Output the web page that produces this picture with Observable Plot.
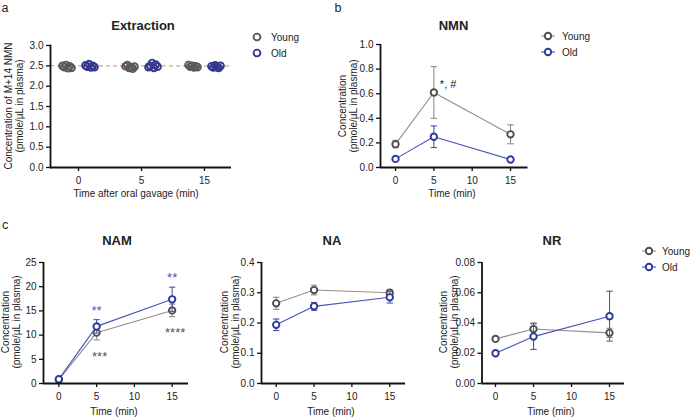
<!DOCTYPE html>
<html><head><meta charset="utf-8">
<script src="https://cdn.jsdelivr.net/npm/d3@7"></script>
<script src="https://cdn.jsdelivr.net/npm/@observablehq/plot@0.6"></script>
<style>
body{margin:0;background:#fff;font-family:Arial,"Liberation Sans",sans-serif;color:#222;}
#fig{position:relative;width:691px;height:417px;overflow:hidden;background:#fff;}
.t{position:absolute;white-space:nowrap;}
.title{font-weight:bold;font-size:13px;transform:translate(-50%,-50%);}
.letter{font-size:12.5px;transform:translate(-50%,-50%);}
.ylab{font-size:10px;text-align:center;line-height:11px;transform:translate(-50%,-50%) rotate(-90deg);}
.xlab{font-size:10px;transform:translate(-50%,-50%);}
.leg{font-size:10px;transform:translateY(-50%);}
</style></head><body><div id="fig"></div>
<script>
// ---------- data ----------
const times = [0, 5, 15];
const timeTicks = [0, 5, 10, 15];
const groups = ["Young", "Old"];

// Panel a: extraction (individual replicates)
const extractTimeLabels = ["0", "5", "15"];
const extractTarget = 2.5;
const extractYoung = [
  [2.50, 2.47, 2.52, 2.44, 2.49, 2.45],
  [2.49, 2.52, 2.45, 2.47, 2.43, 2.48],
  [2.52, 2.48, 2.50, 2.46, 2.49, 2.47]
];
const extractOld = [
  [2.51, 2.48, 2.54, 2.46, 2.50, 2.47],
  [2.47, 2.50, 2.57, 2.45, 2.53, 2.48],
  [2.49, 2.46, 2.51, 2.47, 2.45, 2.50]
];
const extractYTicks = [0, 0.5, 1, 1.5, 2, 2.5, 3];

// Panel b: NMN
const nmnYoungMean = [0.19, 0.61, 0.27];
const nmnYoungSem  = [0.03, 0.21, 0.077];
const nmnOldMean   = [0.07, 0.25, 0.065];
const nmnOldSem    = [0.01, 0.088, 0.01];
const nmnYTicks = [0, 0.2, 0.4, 0.6, 0.8, 1.0];

// Panel c: NAM, NA, NR
const namYoungMean = [0.8, 10.5, 15.1];
const namYoungSem  = [0.3, 1.5, 1.3];
const namOldMean   = [0.9, 11.8, 17.4];
const namOldSem    = [0.3, 1.4, 2.5];
const namYTicks = [0, 5, 10, 15, 20, 25];

const naYoungMean = [0.265, 0.309, 0.300];
const naYoungSem  = [0.020, 0.016, 0.010];
const naOldMean   = [0.194, 0.255, 0.285];
const naOldSem    = [0.019, 0.013, 0.019];
const naYTicks = [0, 0.1, 0.2, 0.3, 0.4];

const nrYoungMean = [0.0295, 0.0360, 0.0335];
const nrYoungSem  = [0.0010, 0.0040, 0.0030];
const nrOldMean   = [0.0200, 0.0310, 0.0445];
const nrOldSem    = [0.0010, 0.0085, 0.0165];
const nrYTicks = [0, 0.02, 0.04, 0.06, 0.08];

// annotations
const nmnAnnot = [{time: 5, value: 0.675, label: "*, #"}];
const namOldAnnot = [{time: 5, value: 15.8, label: "**"}, {time: 15, value: 22.6, label: "**"}];
const namYoungAnnot = [{time: 5, value: 6.2, label: "***"}, {time: 15, value: 11.2, label: "****"}];

// ---------- style ----------
const FONT = "Arial, 'Liberation Sans', sans-serif";
const YOUNG_MARK = "#4d4d4d", YOUNG_LINE = "#8e8e8e";
const OLD_MARK = "#2b399b", OLD_LINE = "#4656b8";
const DOT_YOUNG = "#5a5a5a", DOT_OLD = "#34398f";

const fig = document.getElementById("fig");
function put(el, left, top) {
  el.style.position = "absolute";
  el.style.left = left + "px";
  el.style.top = top + "px";
  fig.appendChild(el);
}
function text(cls, html, x, y) {
  const d = document.createElement("div");
  d.className = "t " + cls;
  d.innerHTML = html;
  d.style.left = x + "px";
  d.style.top = y + "px";
  fig.appendChild(d);
}
function series(mean, sem) {
  return times.map((t, i) => ({time: t, mean: mean[i], lo: mean[i] - sem[i], hi: mean[i] + sem[i]}));
}
const capSymbol = {draw(ctx, size) { const w = Math.sqrt(size) / 2; ctx.moveTo(-w, 0); ctx.lineTo(w, 0); }};

function groupMarks(data, markColor, lineColor) {
  return [
    Plot.line(data, {x: "time", y: "mean", stroke: lineColor, strokeWidth: 1.1}),
    Plot.ruleX(data, {x: "time", y1: "lo", y2: "hi", stroke: lineColor, strokeWidth: 1.1}),
    Plot.dot(data, {x: "time", y: "lo", symbol: capSymbol, r: 3.6, stroke: lineColor, strokeWidth: 1.1, fill: "none"}),
    Plot.dot(data, {x: "time", y: "hi", symbol: capSymbol, r: 3.6, stroke: lineColor, strokeWidth: 1.1, fill: "none"}),
    Plot.dot(data, {x: "time", y: "mean", r: 3.2, stroke: markColor, strokeWidth: 1.9, fill: "white"})
  ];
}

function tcPlot(o) {
  return Plot.plot({
    width: o.width, height: o.height,
    marginLeft: o.ml, marginRight: o.mr, marginTop: o.mt, marginBottom: o.mb,
    style: {fontFamily: FONT, fontSize: "10px", color: "#222", background: "transparent", overflow: "visible"},
    x: {domain: o.xDomain},
    y: {domain: [o.yTicks[0], o.yTicks[o.yTicks.length - 1]]},
    marks: [
      Plot.axisX({ticks: timeTicks, tickSize: 4, tickPadding: 5, label: null, tickFormat: d => String(d), stroke: "#111", strokeWidth: 1.3}),
      Plot.axisY({ticks: o.yTicks, tickSize: 4, tickPadding: 3, label: null, tickFormat: o.yFormat, stroke: "#111", strokeWidth: 1.3}),
      ...groupMarks(o.young, YOUNG_MARK, YOUNG_LINE),
      ...groupMarks(o.old, OLD_MARK, OLD_LINE),
      Plot.ruleX([o.xDomain[0]], {stroke: "#111", strokeWidth: 1.8}),
      Plot.ruleY([o.yTicks[0]], {stroke: "#111", strokeWidth: 1.8}),
      ...(o.extra || [])
    ]
  });
}

// ---------- panel a ----------
const repMarks = [];
groups.forEach((g, gi) => {
  const src = g === "Young" ? extractYoung : extractOld;
  const color = g === "Young" ? DOT_YOUNG : DOT_OLD;
  const n = src[0].length;
  for (let i = 0; i < n; i++) {
    const data = extractTimeLabels.map((t, k) => ({t, v: src[k][i]}));
    repMarks.push(Plot.dot(data, {
      x: "t", y: "v", r: 3.4, stroke: color, strokeWidth: 1.9, fill: "none",
      dx: (gi === 0 ? -11.5 : 11.5) + (i - (n - 1) / 2) * 1.8
    }));
  }
});
const plotA = Plot.plot({
  width: 240, height: 200, marginLeft: 50, marginRight: 9, marginTop: 45, marginBottom: 33,
  style: {fontFamily: FONT, fontSize: "10px", color: "#222", background: "transparent", overflow: "visible"},
  x: {type: "point", domain: extractTimeLabels, padding: 0.42},
  y: {domain: [0, 3]},
  marks: [
    Plot.axisX({tickSize: 4, tickPadding: 5, label: null, stroke: "#111", strokeWidth: 1.3}),
    Plot.axisY({ticks: extractYTicks, tickSize: 4, tickPadding: 3, label: null, tickFormat: d3.format(".1f"), stroke: "#111", strokeWidth: 1.3}),
    Plot.ruleY([extractTarget], {stroke: "#f39a78", strokeWidth: 1.2, strokeDasharray: "4,3"}),
    ...repMarks,
    Plot.frame({anchor: "left", stroke: "#111", strokeWidth: 1.8}),
    Plot.ruleY([0], {stroke: "#111", strokeWidth: 1.8})
  ]
});
put(plotA, 0, 0);

// ---------- panel b ----------
const plotB = tcPlot({
  width: 210, height: 200, ml: 50, mr: 12.5, mt: 44, mb: 33,
  xDomain: [-1.96, 17.28], yTicks: nmnYTicks, yFormat: d3.format(".1f"),
  young: series(nmnYoungMean, nmnYoungSem), old: series(nmnOldMean, nmnOldSem),
  extra: [Plot.text(nmnAnnot, {x: "time", y: "value", text: "label", textAnchor: "start", dx: 6, fontSize: 11, fill: "#222"})]
});
put(plotB, 330, 0);

// ---------- panel c ----------
const plotNAM = tcPlot({
  width: 200, height: 217, ml: 43, mr: 12, mt: 62, mb: 34,
  xDomain: [-2.03, 17.16], yTicks: namYTicks, yFormat: d3.format("d"),
  young: series(namYoungMean, namYoungSem), old: series(namOldMean, namOldSem),
  extra: [
    Plot.text(namOldAnnot, {x: "time", y: "value", text: "label", fontSize: 13, dy: 3.5, fill: OLD_LINE}),
    Plot.text(namYoungAnnot, {x: "time", y: "value", text: "label", fontSize: 13, dy: 3.5, dx: 3, fill: "#555"})
  ]
});
put(plotNAM, 0, 200);

const plotNA = tcPlot({
  width: 200, height: 217, ml: 51, mr: 5, mt: 62, mb: 34,
  xDomain: [-1.94, 17.08], yTicks: naYTicks, yFormat: d3.format(".1f"),
  young: series(naYoungMean, naYoungSem), old: series(naOldMean, naOldSem)
});
put(plotNA, 210, 200);

const plotNR = tcPlot({
  width: 200, height: 217, ml: 51.5, mr: 6, mt: 62, mb: 34,
  xDomain: [-1.78, 16.97], yTicks: nrYTicks, yFormat: d3.format(".2f"),
  young: series(nrYoungMean, nrYoungSem), old: series(nrOldMean, nrOldSem)
});
put(plotNR, 430, 200);

// ---------- texts ----------
text("letter", "a", 5, 8);
text("letter", "b", 338, 8);
text("letter", "c", 5, 225);
text("title", "Extraction", 143, 25);
text("title", "NMN", 453.5, 25);
text("title", "NAM", 117, 240);
text("title", "NA", 332, 240);
text("title", "NR", 552, 240);
text("ylab", "Concentration of M+14 NMN<br>(pmole/µL in plasma)", 14, 106);
text("ylab", "Concentration<br>(pmole/µL in plasma)", 347.5, 106);
text("ylab", "Concentration<br>(pmole/µL in plasma)", 11, 322);
text("ylab", "Concentration<br>(pmole/µL in plasma)", 229.5, 322);
text("ylab", "Concentration<br>(pmole/µL in plasma)", 449, 322);
text("xlab", "Time after oral gavage (min)", 136, 193);
text("xlab", "Time (min)", 452, 193);
text("xlab", "Time (min)", 114, 410.5);
text("xlab", "Time (min)", 331, 410.5);
text("xlab", "Time (min)", 551, 410.5);

// ---------- legends ----------
const NS = "http://www.w3.org/2000/svg";
function legendSym(cx, cy, mark, line, withLine, scatter) {
  const s = document.createElementNS(NS, "svg");
  s.setAttribute("width", 18); s.setAttribute("height", 12);
  s.style.overflow = "visible";
  if (withLine) {
    const l = document.createElementNS(NS, "line");
    l.setAttribute("x1", 2); l.setAttribute("x2", 16); l.setAttribute("y1", 6); l.setAttribute("y2", 6);
    l.setAttribute("stroke", line); l.setAttribute("stroke-width", 1.1);
    s.appendChild(l);
  }
  const c = document.createElementNS(NS, "circle");
  c.setAttribute("cx", 9); c.setAttribute("cy", 6); c.setAttribute("r", scatter ? 3.4 : 3.2);
  c.setAttribute("fill", "white"); c.setAttribute("stroke", mark); c.setAttribute("stroke-width", 1.9);
  s.appendChild(c);
  put(s, cx - 9, cy - 6);
}
// a
legendSym(256.7, 36.7, DOT_YOUNG, null, false, true);
legendSym(256.7, 53.3, DOT_OLD, null, false, true);
text("leg", "Young", 271, 36.7);
text("leg", "Old", 271, 53.3);
// b
legendSym(547.5, 36, YOUNG_MARK, YOUNG_LINE, true, false);
legendSym(547.5, 51.7, OLD_MARK, OLD_LINE, true, false);
text("leg", "Young", 562, 36);
text("leg", "Old", 562, 51.7);
// c
legendSym(648.5, 251, YOUNG_MARK, YOUNG_LINE, true, false);
legendSym(648.5, 266.7, OLD_MARK, OLD_LINE, true, false);
text("leg", "Young", 662, 251);
text("leg", "Old", 662, 266.7);
</script></body></html>
